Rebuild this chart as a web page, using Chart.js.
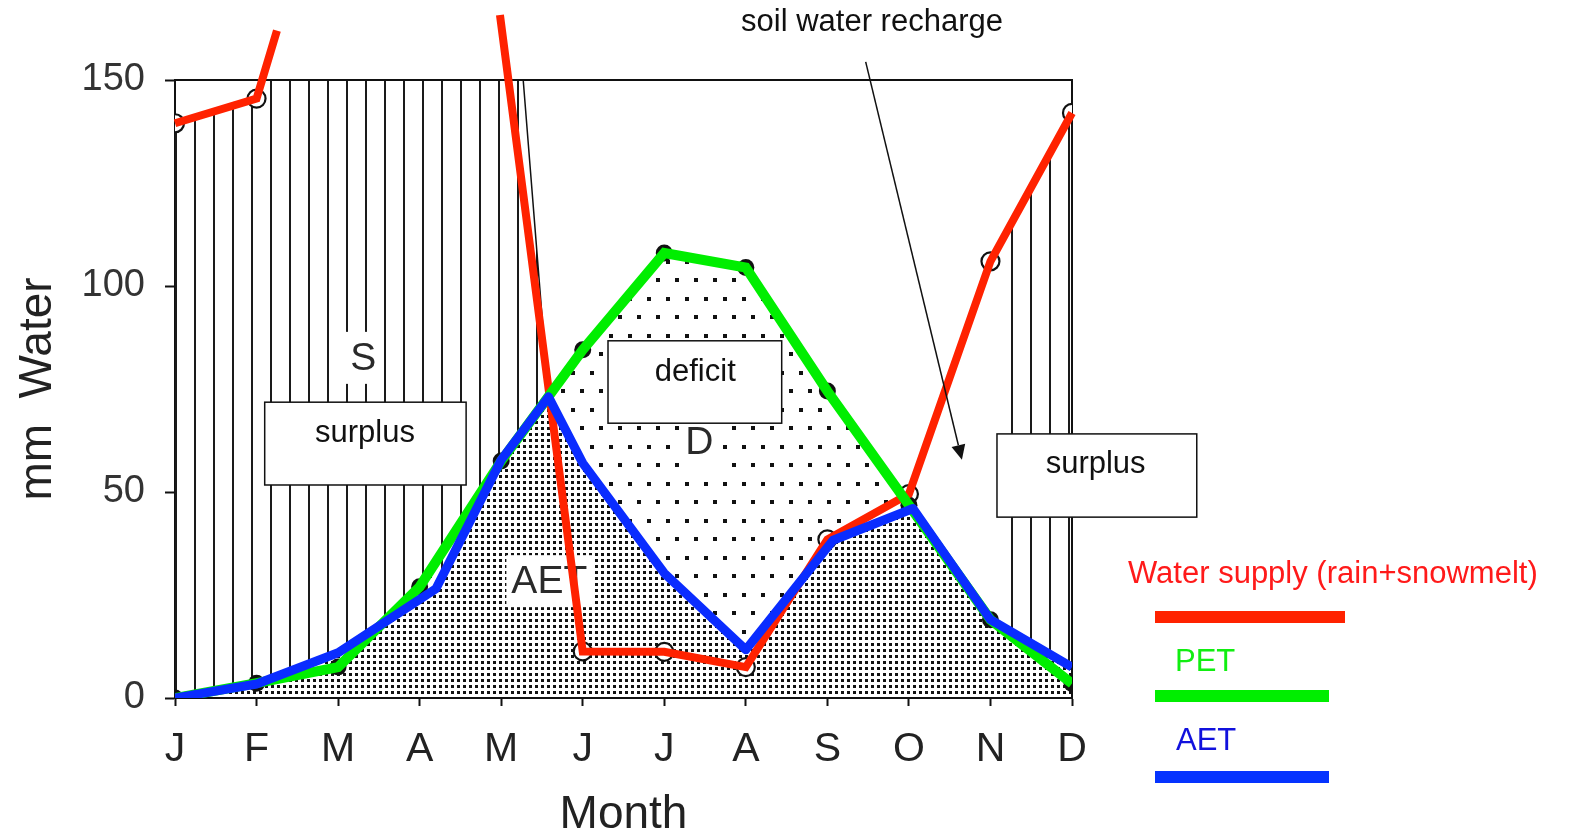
<!DOCTYPE html>
<html><head><meta charset="utf-8">
<script src="https://cdn.jsdelivr.net/npm/chart.js@4.4.1/dist/chart.umd.min.js"></script>
<style>html,body{margin:0;padding:0;background:#fff;}canvas{display:block;}</style>
</head><body>
<canvas id="c" width="1569" height="838"></canvas>
<script>
// ---------- data ----------
const monthLabels = ['J','F','M','A','M','J','J','A','S','O','N','D'];
const yTickValues = [0, 50, 100, 150];

// Water supply (rain+snowmelt) – red overlay; null = the line leaves the chart
const supplyX = [0, 1, 1.25, 2, 3.985, 5, 6, 7, 8, 9, 10, 11];
const supplyY = [139.5, 145.5, 162, null, 165.8, 11.3, 11.2, 7.5, 38.5, 49.5, 106, 142];

// PET – green overlay (and original filled points)
const petX = [0, 1, 2, 3, 4, 5, 6, 7, 8, 9, 10, 11];
const petY = [0, 3.6, 7.5, 27, 57.5, 84.5, 108, 104.5, 74.5, 46.8, 19, 3.5];

// AET – blue overlay
const aetX = [0, 1, 2, 3.2, 4, 4.58, 5, 6, 7, 8.07, 9.05, 10, 11];
const aetY = [0, 3.4, 11, 26.5, 57.8, 73.1, 57, 30.3, 11.7, 38.3, 46, 19, 7.5];

// original (black) supply curve bounding the spring surplus
const origSupplyX = [0, 1, 2, 3, 4, 4.27, 4.58];
const origSupplyY = [139.5, 145.5, 190, 200, 190, 150, 73.1];

// supply curve bounding the late-autumn surplus (after soil recharge)
const lateSupplyX = [10.2, 11];
const lateSupplyY = [113, 142];

// ---------- helpers ----------
const FONT = '"Liberation Sans", Arial, Helvetica, sans-serif';
const toPts = (xs, ys) => xs.map((x, i) => ({x: x, y: ys[i]}));
const cv = document.getElementById('c');
function makePattern(w, h, draw) {
  const c = document.createElement('canvas'); c.width = w; c.height = h;
  draw(c.getContext('2d'));
  return cv.getContext('2d').createPattern(c, 'repeat');
}
const hatch = makePattern(19, 4, g => { g.fillStyle = '#1a1a1a'; g.fillRect(4, 0, 2, 4); });
const denseDots = makePattern(6, 6, g => { g.fillStyle = '#111'; g.fillRect(1, 1, 3, 3); });
const sparseDots = makePattern(19, 37, g => { g.fillStyle = '#111'; g.fillRect(1, 1, 4, 4); g.fillRect(10, 19, 4, 4); });

const supplyPts = toPts(supplyX, supplyY);
const supplyMarks = supplyPts.filter(p => p.y !== null && p.y <= 150);
const NONE = 'rgba(0,0,0,0)';

// ---------- annotation plugin ----------
const annot = {
  id: 'annot',
  beforeDatasetsDraw(chart) {
    const {ctx, chartArea: a, scales: {x, y}} = chart;
    const X = v => x.getPixelForValue(v), Y = v => y.getPixelForValue(v);
    ctx.save();
    const boxes = [
      {x0: 1.10, x1: 3.57, y0: 71.8, y1: 51.7, text: 'surplus', tx: 2.33, ty: 64.3},
      {x0: 5.31, x1: 7.44, y0: 86.7, y1: 66.7, text: 'deficit', tx: 6.38, ty: 79.1},
      {x0: 10.08, x1: 12.53, y0: 64.1, y1: 43.9, text: 'surplus', tx: 11.29, ty: 56.6}
    ];
    const big = [
      {text: 'S', tx: 2.31, ty: 82.8},
      {text: 'D', tx: 6.43, ty: 62.4},
      {text: 'AET', tx: 4.59, ty: 28.6}
    ];
    ctx.font = '39px ' + FONT;
    ctx.textAlign = 'center'; ctx.textBaseline = 'middle';
    big.forEach(b => {
      const w = ctx.measureText(b.text).width;
      ctx.fillStyle = '#fff';
      ctx.fillRect(X(b.tx) - w / 2 - 5, Y(b.ty) - 25, w + 10, 52);
      ctx.fillStyle = '#2a2a2a';
      ctx.fillText(b.text, X(b.tx), Y(b.ty) + 2);
    });
    ctx.strokeStyle = '#111'; ctx.lineWidth = 2;
    ctx.beginPath();
    ctx.moveTo(a.left, a.top); ctx.lineTo(a.right, a.top); ctx.lineTo(a.right, a.bottom);
    ctx.stroke();
    ctx.restore();
    ctx.save();
    boxes.forEach(b => {
      const l = X(b.x0), r = X(b.x1), t = Y(b.y0), bt = Y(b.y1);
      ctx.fillStyle = '#fff'; ctx.fillRect(l, t, r - l, bt - t);
      ctx.strokeStyle = '#111'; ctx.lineWidth = 1.5; ctx.strokeRect(l, t, r - l, bt - t);
      ctx.fillStyle = '#111'; ctx.font = '31px ' + FONT;
      ctx.textAlign = 'center'; ctx.textBaseline = 'middle';
      ctx.fillText(b.text, X(b.tx), Y(b.ty));
    });
    ctx.restore();
  },
  afterDatasetsDraw(chart) {
    const {ctx, scales: {x, y}} = chart;
    const X = v => x.getPixelForValue(v), Y = v => y.getPixelForValue(v);
    const sx = X(8.47), sy = Y(154.4), ex = X(9.65), ey = Y(57.8);
    ctx.save();
    ctx.strokeStyle = '#111'; ctx.lineWidth = 1.5;
    const ang = Math.atan2(ey - sy, ex - sx);
    const L = 15, W = 7;
    const bx = ex - L * Math.cos(ang), by = ey - L * Math.sin(ang);
    ctx.beginPath(); ctx.moveTo(sx, sy); ctx.lineTo(bx, by); ctx.stroke();
    ctx.fillStyle = '#111';
    ctx.beginPath();
    ctx.moveTo(ex, ey);
    ctx.lineTo(bx + W * Math.sin(ang), by - W * Math.cos(ang));
    ctx.lineTo(bx - W * Math.sin(ang), by + W * Math.cos(ang));
    ctx.closePath(); ctx.fill();
    ctx.restore();
  },
  afterDraw(chart) {
    const ctx = chart.ctx;
    ctx.save();
    ctx.font = '31px ' + FONT; ctx.textBaseline = 'middle'; ctx.textAlign = 'center';
    ctx.fillStyle = '#111';
    ctx.fillText('soil water recharge', 872, 22);
    ctx.textAlign = 'left';
    ctx.fillStyle = '#ff1a1a'; ctx.fillText('Water supply (rain+snowmelt)', 1128, 574);
    ctx.fillStyle = '#ff2200'; ctx.fillRect(1155, 611, 190, 12);
    ctx.fillStyle = '#11ee11'; ctx.fillText('PET', 1175, 662);
    ctx.fillStyle = '#00ee00'; ctx.fillRect(1155, 690, 174, 12);
    ctx.fillStyle = '#1111dd'; ctx.fillText('AET', 1176, 741);
    ctx.fillStyle = '#0533ff'; ctx.fillRect(1155, 771, 174, 12);
    ctx.restore();
  }
};

new Chart(cv, {
  type: 'line',
  data: {
    datasets: [
      {label: 'AET', data: toPts(aetX, aetY), borderColor: '#0a2cff', borderWidth: 9,
       pointRadius: 0, fill: 'origin', backgroundColor: denseDots, order: 0, borderJoinStyle: 'round'},
      {label: 'PET', data: toPts(petX, petY), borderColor: '#00ee00', borderWidth: 10,
       pointRadius: 0, fill: {target: 0, above: sparseDots, below: NONE}, order: 1},
      {label: 'Water supply', data: supplyPts, borderColor: '#ff2200', borderWidth: 8,
       pointRadius: 0, fill: false, clip: false, spanGaps: false, order: 2},
      {label: 'PET points', data: toPts(petX, petY), showLine: false, pointRadius: 8.5,
       pointBackgroundColor: '#111', pointBorderWidth: 0, order: 3},
      {label: 'Supply points', data: supplyMarks, showLine: false, pointRadius: 9,
       pointBackgroundColor: '#fff', pointBorderColor: '#111', pointBorderWidth: 2.2, order: 4},
      {label: 'Original supply', data: toPts(origSupplyX, origSupplyY), borderColor: '#111', borderWidth: 1.5,
       pointRadius: 0, fill: {target: 0, above: hatch, below: NONE}, order: 5},
      {label: 'Late supply', data: toPts(lateSupplyX, lateSupplyY), borderColor: NONE, borderWidth: 1,
       pointRadius: 0, fill: {target: 0, above: hatch, below: NONE}, order: 6}
    ]
  },
  options: {
    responsive: false, animation: false,
    layout: {padding: {left: 0, top: 80, right: 497, bottom: 0}},
    plugins: {legend: {display: false}, tooltip: {enabled: false}, filler: {drawTime: 'beforeDatasetsDraw'}},
    elements: {line: {tension: 0, borderCapStyle: 'butt'}},
    scales: {
      x: {
        type: 'linear', min: 0, max: 11, z: 1,
        afterBuildTicks: s => { s.ticks = monthLabels.map((_, i) => ({value: i})); },
        afterFit: s => { s.height = 140; },
        ticks: {callback: v => monthLabels[v], font: {family: FONT, size: 41}, color: '#222',
                padding: 19, maxRotation: 0, autoSkip: false},
        grid: {drawOnChartArea: false, drawTicks: true, tickLength: 8, tickColor: '#111', tickWidth: 2},
        border: {display: true, color: '#111', width: 2},
        title: {display: true, text: 'Month', font: {family: FONT, size: 46, lineHeight: 1},
                color: '#222', padding: {top: 0, bottom: 0}}
      },
      y: {
        min: 0, max: 150, z: 1,
        afterBuildTicks: s => { s.ticks = yTickValues.map(v => ({value: v})); },
        afterFit: s => { s.width = 175; },
        ticks: {font: {family: FONT, size: 38}, color: '#333', padding: 20},
        grid: {drawOnChartArea: false, drawTicks: true, tickLength: 10, tickColor: '#111', tickWidth: 2},
        border: {display: true, color: '#111', width: 2},
        title: {display: true, text: 'mm  Water', font: {family: FONT, size: 46, lineHeight: 1},
                color: '#222', padding: {top: 15, bottom: 0}}
      }
    }
  },
  plugins: [annot]
});
</script>
</body></html>
